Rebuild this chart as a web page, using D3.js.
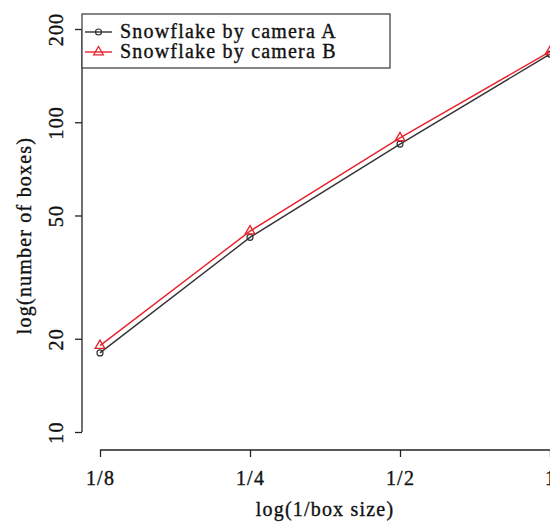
<!DOCTYPE html>
<html>
<head>
<meta charset="utf-8">
<script src="https://cdn.jsdelivr.net/npm/d3@7"></script>
<style>
  html, body { margin: 0; padding: 0; background: #fff; }
  svg { display: block; font-family: "Liberation Serif", "Times New Roman", serif; }
  text { letter-spacing: 1.2px; stroke: #111; stroke-width: 0.35px; fill: #111; }
</style>
</head>
<body>
<svg id="chart" width="550" height="523"></svg>
<script>
// Box-counting results: number of boxes vs 1/box size (log–log)
const boxScale = [1/8, 1/4, 1/2, 1];
const boxScaleLabels = ["1/8", "1/4", "1/2", "1"];
const cameraA = [18, 42.5, 85, 166];
const cameraB = [19, 44.5, 89, 169];
const yTicks = [10, 20, 50, 100, 200];
const seriesNames = ["Snowflake by camera A", "Snowflake by camera B"];
const seriesColors = ["#333333", "#e8202a"];

const svg = d3.select("#chart");
const fontSize = "20px";

// Plot region (extends past the right edge of the page)
const plot = { left: 82, right: 568, top: 13, bottom: 450 };

const x = d3.scaleLog().base(2)
  .domain([1/8, 1])
  .range([100, 550]);

const y = d3.scaleLog()
  .domain([10, 200])
  .range([432, 29]);

// x axis (line spans first to last tick)
const xAxis = d3.axisBottom(x)
  .tickValues(boxScale)
  .tickFormat((d, i) => boxScaleLabels[i])
  .tickSize(7)
  .tickSizeOuter(0);

const gx = svg.append("g")
  .attr("transform", `translate(0,${plot.bottom})`)
  .call(xAxis);
gx.select(".domain").remove();
gx.append("line")
  .attr("x1", x(1/8)).attr("x2", x(1))
  .attr("stroke", "#222").attr("stroke-width", 1.3);
gx.selectAll(".tick line").attr("stroke", "#222").attr("stroke-width", 1.3);
gx.selectAll(".tick text")
  .attr("y", 21)
  .style("font-size", fontSize)
  .style("font-family", "Liberation Serif, serif");

// y axis with rotated tick labels
const yAxis = d3.axisLeft(y)
  .tickValues(yTicks)
  .tickFormat(d3.format("d"))
  .tickSize(7)
  .tickSizeOuter(0);

const gy = svg.append("g")
  .attr("transform", `translate(${plot.left},0)`)
  .call(yAxis);
gy.select(".domain").remove();
gy.append("line")
  .attr("y1", y(10)).attr("y2", y(200))
  .attr("stroke", "#222").attr("stroke-width", 1.3);
gy.selectAll(".tick line").attr("stroke", "#222").attr("stroke-width", 1.3);
gy.selectAll(".tick text")
  .attr("x", 0).attr("dy", 0)
  .attr("text-anchor", "middle")
  .attr("transform", "translate(-19,0) rotate(-90)")
  .style("font-size", fontSize)
  .style("font-family", "Liberation Serif, serif");

// axis titles
svg.append("text")
  .attr("x", (plot.left + plot.right) / 2)
  .attr("y", 516)
  .attr("text-anchor", "middle")
  .style("font-size", fontSize)
  .text("log(1/box size)");

svg.append("text")
  .attr("transform", `translate(31,${(plot.top + plot.bottom) / 2 + 4}) rotate(-90)`)
  .attr("text-anchor", "middle")
  .style("font-size", fontSize)
  .text("log(number of boxes)");

// series
const series = [cameraA, cameraB];
const line = d3.line()
  .x((d, i) => x(boxScale[i]))
  .y(d => y(d));

const triangle = d3.symbol().type(d3.symbolTriangle).size(40);

series.forEach((vals, s) => {
  const g = svg.append("g");
  g.append("path")
    .datum(vals)
    .attr("d", line)
    .attr("fill", "none")
    .attr("stroke", seriesColors[s])
    .attr("stroke-width", 1.4);
  if (s === 0) {
    g.selectAll("circle").data(vals).enter().append("circle")
      .attr("cx", (d, i) => x(boxScale[i]))
      .attr("cy", d => y(d))
      .attr("r", 3)
      .attr("fill", "none")
      .attr("stroke", seriesColors[s])
      .attr("stroke-width", 1.2);
  } else {
    g.selectAll("path.pt").data(vals).enter().append("path")
      .attr("class", "pt")
      .attr("d", triangle)
      .attr("transform", (d, i) => `translate(${x(boxScale[i])},${y(d)})`)
      .attr("fill", "none")
      .attr("stroke", seriesColors[s])
      .attr("stroke-width", 1.3);
  }
});

// legend
const legend = svg.append("g");
legend.append("rect")
  .attr("x", plot.left).attr("y", 14)
  .attr("width", 308).attr("height", 54)
  .attr("fill", "#fff")
  .attr("stroke", "#444").attr("stroke-width", 1.3);

seriesNames.forEach((name, s) => {
  const cy = 32 + s * 20;
  legend.append("line")
    .attr("x1", 85).attr("x2", 112)
    .attr("y1", cy).attr("y2", cy)
    .attr("stroke", seriesColors[s]).attr("stroke-width", 1.4);
  if (s === 0) {
    legend.append("circle")
      .attr("cx", 98.5).attr("cy", cy).attr("r", 3)
      .attr("fill", "none").attr("stroke", seriesColors[s]).attr("stroke-width", 1.2);
  } else {
    legend.append("path")
      .attr("d", triangle)
      .attr("transform", `translate(98.5,${cy})`)
      .attr("fill", "none").attr("stroke", seriesColors[s]).attr("stroke-width", 1.3);
  }
  legend.append("text")
    .attr("x", 120).attr("y", cy + 6)
    .style("font-size", fontSize)
    .text(name);
});
</script>
</body>
</html>
